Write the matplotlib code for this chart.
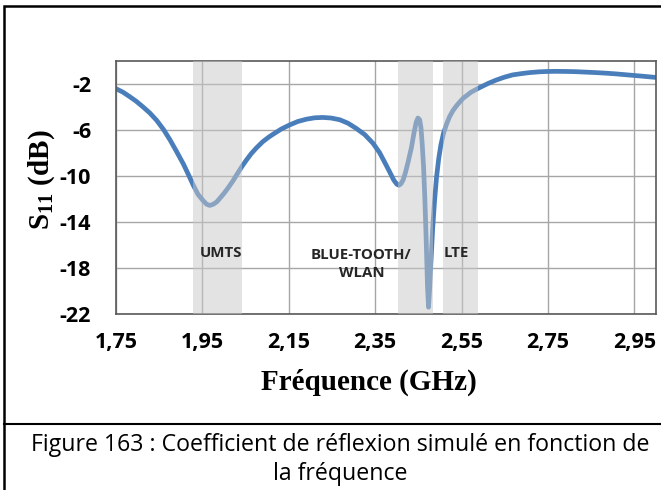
import matplotlib.pyplot as plt
from matplotlib.patches import Rectangle
from matplotlib.lines import Line2D

# simulated S11 (dB) vs frequency (GHz)
freq = [1.750, 1.766, 1.782, 1.797, 1.813, 1.828, 1.844, 1.860, 1.875, 1.890,
        1.906, 1.918, 1.929, 1.940, 1.952, 1.960, 1.967, 1.975, 1.983, 1.990,
        2.000, 2.010, 2.021, 2.030, 2.040, 2.052, 2.063, 2.075, 2.090, 2.104,
        2.114, 2.133, 2.152, 2.171, 2.191, 2.210, 2.229, 2.248, 2.268, 2.287,
        2.306, 2.326, 2.345, 2.360, 2.372, 2.383, 2.393, 2.400, 2.405, 2.410,
        2.415, 2.420, 2.426, 2.434, 2.440, 2.445, 2.449, 2.453, 2.456, 2.459,
        2.462, 2.465, 2.468, 2.471, 2.4735, 2.476, 2.479, 2.483, 2.4875, 2.492,
        2.497, 2.502, 2.508, 2.515, 2.522, 2.530, 2.540, 2.553, 2.572, 2.592,
        2.611, 2.630, 2.649, 2.668, 2.690, 2.707, 2.730, 2.750, 2.770, 2.792,
        2.815, 2.838, 2.861, 2.884, 2.907, 2.931, 2.965, 3.000]
s11 = [-2.40, -2.70, -3.10, -3.50, -4.00, -4.50, -5.15, -5.95, -6.85, -7.85,
       -8.95, -9.90, -10.8, -11.6, -12.15, -12.45, -12.55, -12.45, -12.25, -11.95,
       -11.5, -11.0, -10.4, -9.85, -9.25, -8.6, -8.05, -7.55, -7.0, -6.6,
       -6.35, -5.9, -5.55, -5.25, -5.05, -4.93, -4.9, -4.95, -5.1, -5.4,
       -5.85, -6.4, -7.15, -7.95, -8.8, -9.6, -10.35, -10.7, -10.8, -10.65,
       -10.3, -9.7, -8.8, -7.5, -6.2, -5.3, -4.95, -5.1, -5.8, -7.3,
       -9.2, -12.0, -15.5, -19.5, -21.4, -19.8, -17.5, -14.6, -12.1, -10.1,
       -8.5, -7.3, -6.3, -5.5, -4.85, -4.3, -3.8, -3.25, -2.7, -2.3,
       -1.95, -1.65, -1.4, -1.2, -1.08, -1.0, -0.93, -0.9, -0.89, -0.9,
       -0.92, -0.96, -1.0, -1.05, -1.11, -1.19, -1.3, -1.42]

# frequency bands
band_names = ['UMTS', 'BLUE-TOOTH/\nWLAN', 'LTE']
band_lo = [1.928, 2.402, 2.506]
band_hi = [2.041, 2.483, 2.587]
label_x = [1.992, 2.318, 2.538]
label_y = [-16.7, -17.65, -16.7]

xticks = [1.75, 1.95, 2.15, 2.35, 2.55, 2.75, 2.95]
yticks = [-2, -6, -10, -14, -18, -22]

fig = plt.figure(figsize=(6.61, 4.9), dpi=100)
ax = fig.add_axes([0.1755, 0.359, 0.8169, 0.5163])

ax.plot(freq, s11, color='#4a7ebb', lw=3.4, solid_capstyle='round',
        solid_joinstyle='round', zorder=2)
for lo, hi in zip(band_lo, band_hi):
    ax.axvspan(lo, hi, color='#c8c8c8', alpha=0.5, lw=0, zorder=3)
for name, x, y in zip(band_names, label_x, label_y):
    ax.text(x, y, name, ha='center', va='center', fontsize=10.8,
            fontfamily='Open Sans', fontweight='bold', color='#262626',
            linespacing=1.3, zorder=4)

ax.set_xlim(1.75, 3.0)
ax.set_ylim(-22, 0)
ax.set_xticks(xticks)
ax.set_xticklabels([f'{t:.2f}'.replace('.', ',') for t in xticks])
ax.set_yticks(yticks)
ax.set_yticklabels([str(t) for t in yticks])
ax.grid(True, color='#a6a6a6', lw=1, zorder=1)
ax.set_axisbelow(True)
ax.tick_params(length=0, labelsize=15.5)
ax.tick_params(axis='x', pad=13)
ax.tick_params(axis='y', pad=18)
for lab in ax.get_xticklabels() + ax.get_yticklabels():
    lab.set_fontfamily('Open Sans')
    lab.set_fontweight('bold')
for sp in ax.spines.values():
    sp.set_color('#595959')
    sp.set_linewidth(1.2)

fig.text(369 / 661, 1 - 382 / 490, 'Fréquence (GHz)', ha='center', va='center',
         fontsize=21, fontfamily='Liberation Serif', fontweight='bold')
fig.text(42 / 661, 1 - 180 / 490, r'$\mathregular{S_{11}}$ (dB)', ha='center',
         va='center', rotation=90, fontsize=21,
         fontfamily='Liberation Serif', fontweight='bold')

# outer frame and caption box
fig.add_artist(Rectangle((4 / 661, -0.05), 1.2, 1 - 6 / 490 + 0.05,
                         transform=fig.transFigure, fill=False,
                         ec='black', lw=1.8))
fig.add_artist(Line2D([4 / 661, 1.0], [1 - 424 / 490] * 2,
                      transform=fig.transFigure, color='black', lw=1.5))
fig.text(340 / 661, 1 - 445 / 490, 'Figure 163 : Coefficient de réflexion simulé en fonction de',
         ha='center', va='center', fontsize=16.7, fontfamily='Open Sans')
fig.text(340 / 661, 1 - 474 / 490, 'la fréquence', ha='center', va='center',
         fontsize=16.7, fontfamily='Open Sans')

fig.savefig('out.png', dpi=100)
